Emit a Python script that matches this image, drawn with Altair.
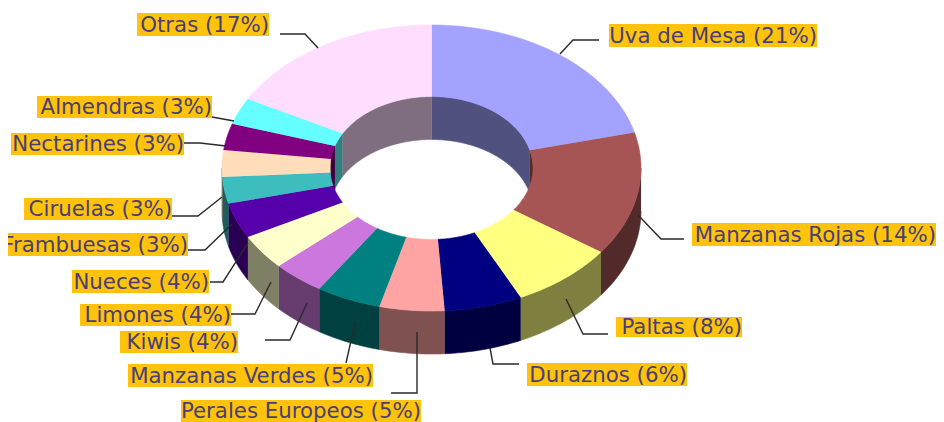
import math
import altair as alt
import pandas as pd

names = ["Uva de Mesa", "Manzanas Rojas", "Paltas", "Duraznos", "Perales Europeos", "Manzanas Verdes",
         "Kiwis", "Limones", "Nueces", "Frambuesas", "Ciruelas", "Nectarines", "Almendras", "Otras"]
shares = [21, 14, 8, 6, 5, 5, 4, 4, 4, 3, 3, 3, 3, 17]
colors = ["#A3A3FF", "#A65454", "#FFFF80", "#000080", "#FFA3A3", "#008080",
          "#CC77DD", "#FFFFCC", "#5500AA", "#3DBDBD", "#FFDDBB", "#800080", "#66FFFF", "#FFDDFF"]

# label boxes: left, right, top, bottom
boxes = [(609, 817, 24, 47), (692, 936, 223, 246), (616, 742, 317, 337), (527, 687, 363, 386),
         (181, 421, 400, 422), (128, 373, 364, 387), (120, 238, 331, 353), (80, 231, 304, 326),
         (72, 209, 270, 293), (8, 188, 233, 256), (24, 172, 198, 220), (11, 184, 133, 155),
         (37, 212, 96, 118), (137, 269, 13, 36)]
leaders = [[(560, 54), (573, 40), (599, 40)], [(638, 215), (661, 239), (684, 239)],
           [(566, 299), (583, 334), (608, 334)], [(490, 348), (493, 364), (519, 364)],
           [(417, 332), (417, 393), (391, 393)], [(355, 323), (346, 363)],
           [(307, 303), (290, 340), (265, 340)], [(271, 282), (255, 314), (231, 314)],
           [(248, 243), (223, 282), (210, 282)], [(232, 224), (205, 250), (188, 250)],
           [(222, 197), (198, 216), (172, 216)], [(226, 146), (200, 143), (184, 143)],
           [(234, 121), (212, 117)], [(318, 48), (305, 34), (280, 34)]]

CX, CY, RX, RY, IRX, IRY, DEPTH = 431.5, 168, 209.5, 143, 101.5, 71.5, 43


def darker(h):
    return "#" + "".join(f"{int(h[i:i+2], 16) // 2:02x}" for i in (1, 3, 5))


def pt(a, rx, ry, dy=0):
    return CX + rx * math.sin(a), CY - ry * math.cos(a) + dy


def sweep(a0, a1):
    n = max(2, int(abs(a1 - a0) / 0.02))
    return [a0 + (a1 - a0) * k / n for k in range(n + 1)]


def clip_ranges(a0, a1, lo, hi):
    out = []
    for shift in (-2 * math.pi, 0, 2 * math.pi):
        s, e = max(a0, lo + shift), min(a1, hi + shift)
        if e > s:
            out.append((s, e))
    return out


top, walls = [], []
def add(rows, key, color, pts):
    for i, (x, y) in enumerate(pts):
        rows.append({"k": key, "i": i, "x": x, "y": y, "c": color})


cum = 0
for name, share, col in zip(names, shares, colors):
    a0 = 2 * math.pi * cum / 100
    a1 = 2 * math.pi * (cum + share) / 100
    cum += share
    outer = [pt(a, RX, RY) for a in sweep(a0, a1)]
    inner = [pt(a, IRX, IRY) for a in sweep(a1, a0)]
    add(top, name, col, outer + inner)
    dark = darker(col)
    for j, (s, e) in enumerate(clip_ranges(a0, a1, math.pi / 2, 3 * math.pi / 2)):
        add(walls, f"o{name}{j}", dark,
            [pt(a, RX, RY) for a in sweep(s, e)] + [pt(a, RX, RY, DEPTH) for a in sweep(e, s)])
    for j, (s, e) in enumerate(clip_ranges(a0, a1, -math.pi / 2, math.pi / 2)):
        add(walls, f"i{name}{j}", dark,
            [pt(a, IRX, IRY) for a in sweep(s, e)] + [pt(a, IRX, IRY, DEPTH) for a in sweep(e, s)])

xs = alt.Scale(domain=[8, 936], nice=False, zero=False)
ys = alt.Scale(domain=[414, 8], nice=False, zero=False)
X = alt.X("x:Q", scale=xs, axis=None)
Y = alt.Y("y:Q", scale=ys, axis=None)


def polys(rows):
    return alt.Chart(alt.Data(values=rows)).mark_line(filled=True, strokeWidth=0.6, interpolate="linear", clip=False).encode(
        x=X, y=Y, detail="k:N", order="i:Q",
        fill=alt.Fill("c:N", scale=None, legend=None),
        stroke=alt.Stroke("c:N", scale=None, legend=None),
    )


labels = pd.DataFrame({
    "t": [f"{n} ({s}%)" for n, s in zip(names, shares)],
    "x": [b[0] for b in boxes], "x2": [b[1] for b in boxes],
    "y": [b[2] for b in boxes], "y2": [b[3] for b in boxes],
    "ym": [(b[2] + b[3]) / 2 for b in boxes],
})
rects = alt.Chart(labels).mark_rect(color="#FFC30B").encode(x=X, x2="x2:Q", y=Y, y2="y2:Q")
texts = alt.Chart(labels).mark_text(align="right", baseline="middle", font="DejaVu Sans", fontSize=21.3, dy=1,
                                    color="#4A3F78").encode(
    x=alt.X("x2:Q", scale=xs, axis=None), y=alt.Y("ym:Q", scale=ys, axis=None), text="t:N")

lead_rows = [{"k": n, "i": i, "x": p[0], "y": p[1]} for n, line in zip(names, leaders) for i, p in enumerate(line)]
lines = alt.Chart(alt.Data(values=lead_rows)).mark_line(color="#2A2A2A", strokeWidth=1.4).encode(
    x=X, y=Y, detail="k:N", order="i:Q")

chart = alt.layer(polys(walls), polys(top), rects, texts, lines).properties(
    width=928, height=406, padding={"left": 0, "top": 0, "right": 0, "bottom": 8},
    autosize=alt.AutoSizeParams(type="none"),
    background="white",
).configure_view(stroke=None)

chart.save("out.html", embed_options={"renderer": "svg", "actions": False})
